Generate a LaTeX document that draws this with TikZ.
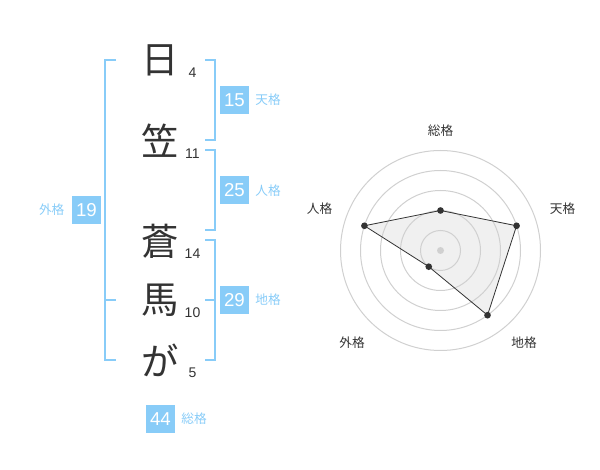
\documentclass[tikz,border=0pt]{standalone}
\usepackage{fontspec}
\setmainfont{Liberation Sans}
\newfontfamily\jpfont{Noto Sans CJK JP}
\usetikzlibrary{positioning,calc}
\definecolor{kakublue}{RGB}{136,204,248}
\definecolor{inkgray}{RGB}{51,51,51}
\definecolor{ringgray}{RGB}{208,208,208}
\definecolor{areagray}{RGB}{240,240,240}
\tikzset{every picture/.style={line width=0.75pt}}
\tikzset{
  kanji/.style={text=inkgray,font=\jpfont\fontsize{28}{28}\selectfont,inner sep=0pt},
  strokes/.style={text=inkgray,font=\fontsize{10.5}{10.5}\selectfont,inner sep=0pt},
  kakubox/.style={fill=kakublue,text=white,minimum width=21.75pt,minimum height=21pt,inner sep=0pt,font=\fontsize{14}{14}\selectfont},
  kakuname/.style={text=kakublue,font=\jpfont\fontsize{9.5}{9.5}\selectfont,inner sep=0pt},
  bracket/.style={draw=kakublue,line width=1.5pt},
  axisname/.style={text=inkgray,font=\jpfont\fontsize{9.5}{9.5}\selectfont,inner sep=0pt},
  dot/.style={circle,fill=inkgray,inner sep=0pt,minimum size=5pt},
}

\begin{document}
\begin{tikzpicture}[x=0.75pt,y=0.75pt,yscale=-1,xscale=1]
\path[use as bounding box] (0,0) rectangle (600,470);

% Name characters
\node[kanji] (c1) at (160,60) {日};
\node[kanji] (c2) at (160,141) {笠};
\node[kanji] (c3) at (160,241) {蒼};
\node[kanji] (c4) at (160,300) {馬};
\node[kanji] (c5) at (160,360) {が};

% Stroke counts
\node[strokes] (s1) at (192.5,72.5) {4};
\node[strokes] (s2) at (192.5,153.5) {11};
\node[strokes] (s3) at (192.5,253.5) {14};
\node[strokes] (s4) at (192.5,312.5) {10};
\node[strokes] (s5) at (192.5,372.5) {5};

% Brackets
\draw[bracket] (116,60) -- (105,60) -- (105,360) -- (116,360);
\draw[bracket] (105,300) -- (116,300);
\draw[bracket] (205,60) -- (215,60) -- (215,140) -- (205,140);
\draw[bracket] (205,150) -- (215,150) -- (215,230) -- (205,230);
\draw[bracket] (205,240) -- (215,240) -- (215,360) -- (205,360);
\draw[bracket] (205,300) -- (215,300);

% Totals
\node[kakubox] (ten) at (234.5,100) {15};
\node[kakuname,right=4pt of ten] (tenname) {天格};
\node[kakubox] (jin) at (234.5,190.5) {25};
\node[kakuname,right=4pt of jin] (jinname) {人格};
\node[kakubox] (chi) at (234.5,300) {29};
\node[kakuname,right=4pt of chi] (chiname) {地格};
\node[kakubox] (gai) at (86.5,210) {19};
\node[kakuname,left=5pt of gai] (gainame) {外格};
\node[kakubox] (sou) at (160.5,419) {44};
\node[kakuname,right=4pt of sou] (souname) {総格};

% Radar chart
\coordinate (o) at (440.5,250.5);
\coordinate (psou) at ($(o)+(-90:40)$);
\coordinate (pten) at ($(o)+(-18:80)$);
\coordinate (pchi) at ($(o)+(54:80)$);
\coordinate (pgai) at ($(o)+(126:20)$);
\coordinate (pjin) at ($(o)+(198:80)$);
\fill[areagray] (psou) -- (pten) -- (pchi) -- (pgai) -- (pjin) -- cycle;
\foreach \r in {20,40,60,80,100}
  \draw[ringgray] (o) circle (\r);
\draw[inkgray,line width=0.6pt] (psou) -- (pten) -- (pchi) -- (pgai) -- (pjin) -- cycle;
\fill[ringgray] (o) circle (3.5);
\foreach \p in {psou,pten,pchi,pgai,pjin}
  \node[dot] at (\p) {};

% Axis labels
\node[axisname] (lsou) at (440.5,130.5) {総格};
\node[axisname] (lten) at (562.5,209) {天格};
\node[axisname] (ljin) at (319.5,209) {人格};
\node[axisname] (lchi) at (524,342.5) {地格};
\node[axisname] (lgai) at (352,342.5) {外格};

\end{tikzpicture}
\end{document}
